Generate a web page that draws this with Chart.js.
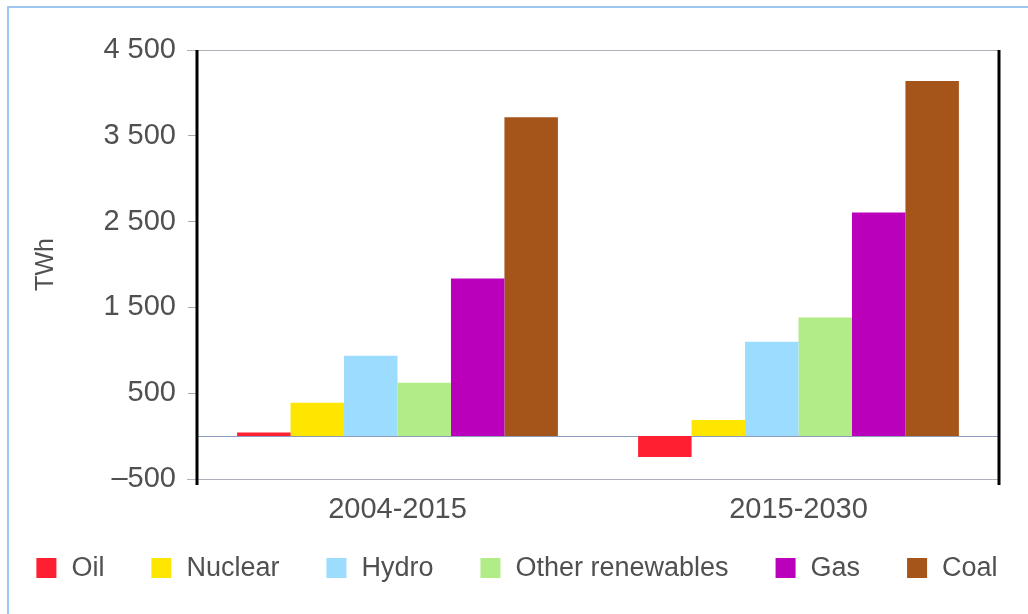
<!DOCTYPE html>
<html>
<head>
<meta charset="utf-8">
<script src="https://cdn.jsdelivr.net/npm/chart.js@4"></script>
<style>
  html, body { margin: 0; padding: 0; background: #fff; }
  #wrap { width: 1028px; height: 614px; position: relative; }
</style>
</head>
<body>
<div id="wrap"><canvas id="chart" width="1028" height="614"></canvas></div>
<script>
// periods on the x axis
const periods = ["2004-2015", "2015-2030"];

// incremental generation per source, TWh
const oil = [41, -243];
const nuclear = [388, 189];
const hydro = [937, 1101];
const otherRenewables = [622, 1381];
const gas = [1836, 2607];
const coal = [3717, 4140];

const sourceNames = ["Oil", "Nuclear", "Hydro", "Other renewables", "Gas", "Coal"];
const sourceColors = ["#ff1f30", "#ffe600", "#9bdcff", "#b2ec86", "#bb00bb", "#a5541a"];

// y axis: -500 .. 4 500 every 1 000
const yMin = -500;
const yMax = 4500;
const yStep = 1000;

const textColor = "#505050";
const fontFamily = "'Liberation Sans', Arial, sans-serif";

function formatTick(v) {
    const s = Math.abs(v).toString().replace(/\B(?=(\d{3})+(?!\d))/g, " ");
    return (v < 0 ? "\u2013" : "") + s;
}

/** frame, axis lines, zero line and legend **/
const framePlugin = {
    id: "frame",
    beforeDatasetsDraw(chart) {
        const { ctx, chartArea } = chart;
        const y0 = chart.scales.y.getPixelForValue(0);
        ctx.save();
        ctx.strokeStyle = "#8c9cc0";
        ctx.lineWidth = 1;
        ctx.beginPath();
        ctx.moveTo(chartArea.left, Math.round(y0) + 0.5);
        ctx.lineTo(chartArea.right, Math.round(y0) + 0.5);
        ctx.stroke();
        ctx.restore();
    },
    afterDraw(chart) {
        const { ctx, chartArea } = chart;
        ctx.save();
        // outer light blue border
        ctx.strokeStyle = "#9fc6f0";
        ctx.lineWidth = 2;
        ctx.beginPath();
        ctx.moveTo(8, 614);
        ctx.lineTo(8, 7);
        ctx.lineTo(1028, 7);
        ctx.stroke();

        // top and bottom thin lines
        ctx.strokeStyle = "#b4aebb";
        ctx.lineWidth = 1;
        ctx.beginPath();
        ctx.moveTo(chartArea.left - 10, chartArea.top + 0.5);
        ctx.lineTo(chartArea.right, chartArea.top + 0.5);
        ctx.moveTo(chartArea.left - 10, chartArea.bottom + 0.5);
        ctx.lineTo(chartArea.right, chartArea.bottom + 0.5);
        ctx.stroke();

        // black side lines
        ctx.strokeStyle = "#000";
        ctx.lineWidth = 3;
        ctx.beginPath();
        ctx.moveTo(chartArea.left, chartArea.top);
        ctx.lineTo(chartArea.left, chartArea.bottom + 6);
        ctx.moveTo(chartArea.right, chartArea.top);
        ctx.lineTo(chartArea.right, chartArea.bottom + 6);
        ctx.stroke();

        // legend
        const box = 20, gapText = 15, gapItem = 47, legendY = 568;
        ctx.font = "27px " + fontFamily;
        ctx.textBaseline = "middle";
        ctx.textAlign = "left";
        const items = chart.data.datasets.map(ds => ({
            text: ds.label, color: ds.backgroundColor, w: ctx.measureText(ds.label).width
        }));
        let total = 0;
        items.forEach((it, i) => { total += box + gapText + it.w + (i > 0 ? gapItem : 0); });
        let x = 517 - total / 2;
        items.forEach(it => {
            ctx.fillStyle = it.color;
            ctx.fillRect(x, legendY - 10, box, box);
            ctx.fillStyle = textColor;
            ctx.fillText(it.text, x + box + gapText, legendY + 1);
            x += box + gapText + it.w + gapItem;
        });
        ctx.restore();
    }
};

const seriesValues = [oil, nuclear, hydro, otherRenewables, gas, coal];

new Chart(document.getElementById("chart"), {
    type: "bar",
    data: {
        labels: periods,
        datasets: sourceNames.map((name, i) => ({
            label: name,
            data: seriesValues[i],
            backgroundColor: sourceColors[i],
            borderWidth: 0,
            categoryPercentage: 0.8,
            barPercentage: 1.0
        }))
    },
    options: {
        responsive: false,
        animation: false,
        layout: { padding: { top: 50, right: 29, left: 0, bottom: 0 } },
        plugins: {
            legend: { display: false },
            tooltip: { enabled: false }
        },
        scales: {
            x: {
                grid: { display: false },
                border: { display: false },
                ticks: {
                    color: textColor,
                    padding: 6,
                    font: { family: fontFamily, size: 29 }
                },
                afterFit(scale) { scale.height = 135; }
            },
            y: {
                min: yMin,
                max: yMax,
                ticks: {
                    stepSize: yStep,
                    color: textColor,
                    padding: 12,
                    font: { family: fontFamily, size: 29 },
                    callback: v => formatTick(v)
                },
                grid: {
                    drawOnChartArea: false,
                    tickLength: 9,
                    color: "#a8a8a8"
                },
                border: { display: false },
                title: {
                    display: true,
                    text: "TWh",
                    color: textColor,
                    font: { family: fontFamily, size: 25 },
                    padding: { top: 31, bottom: 0 }
                },
                afterFit(scale) { scale.width = 197; }
            }
        }
    },
    plugins: [framePlugin]
});
</script>
</body>
</html>
